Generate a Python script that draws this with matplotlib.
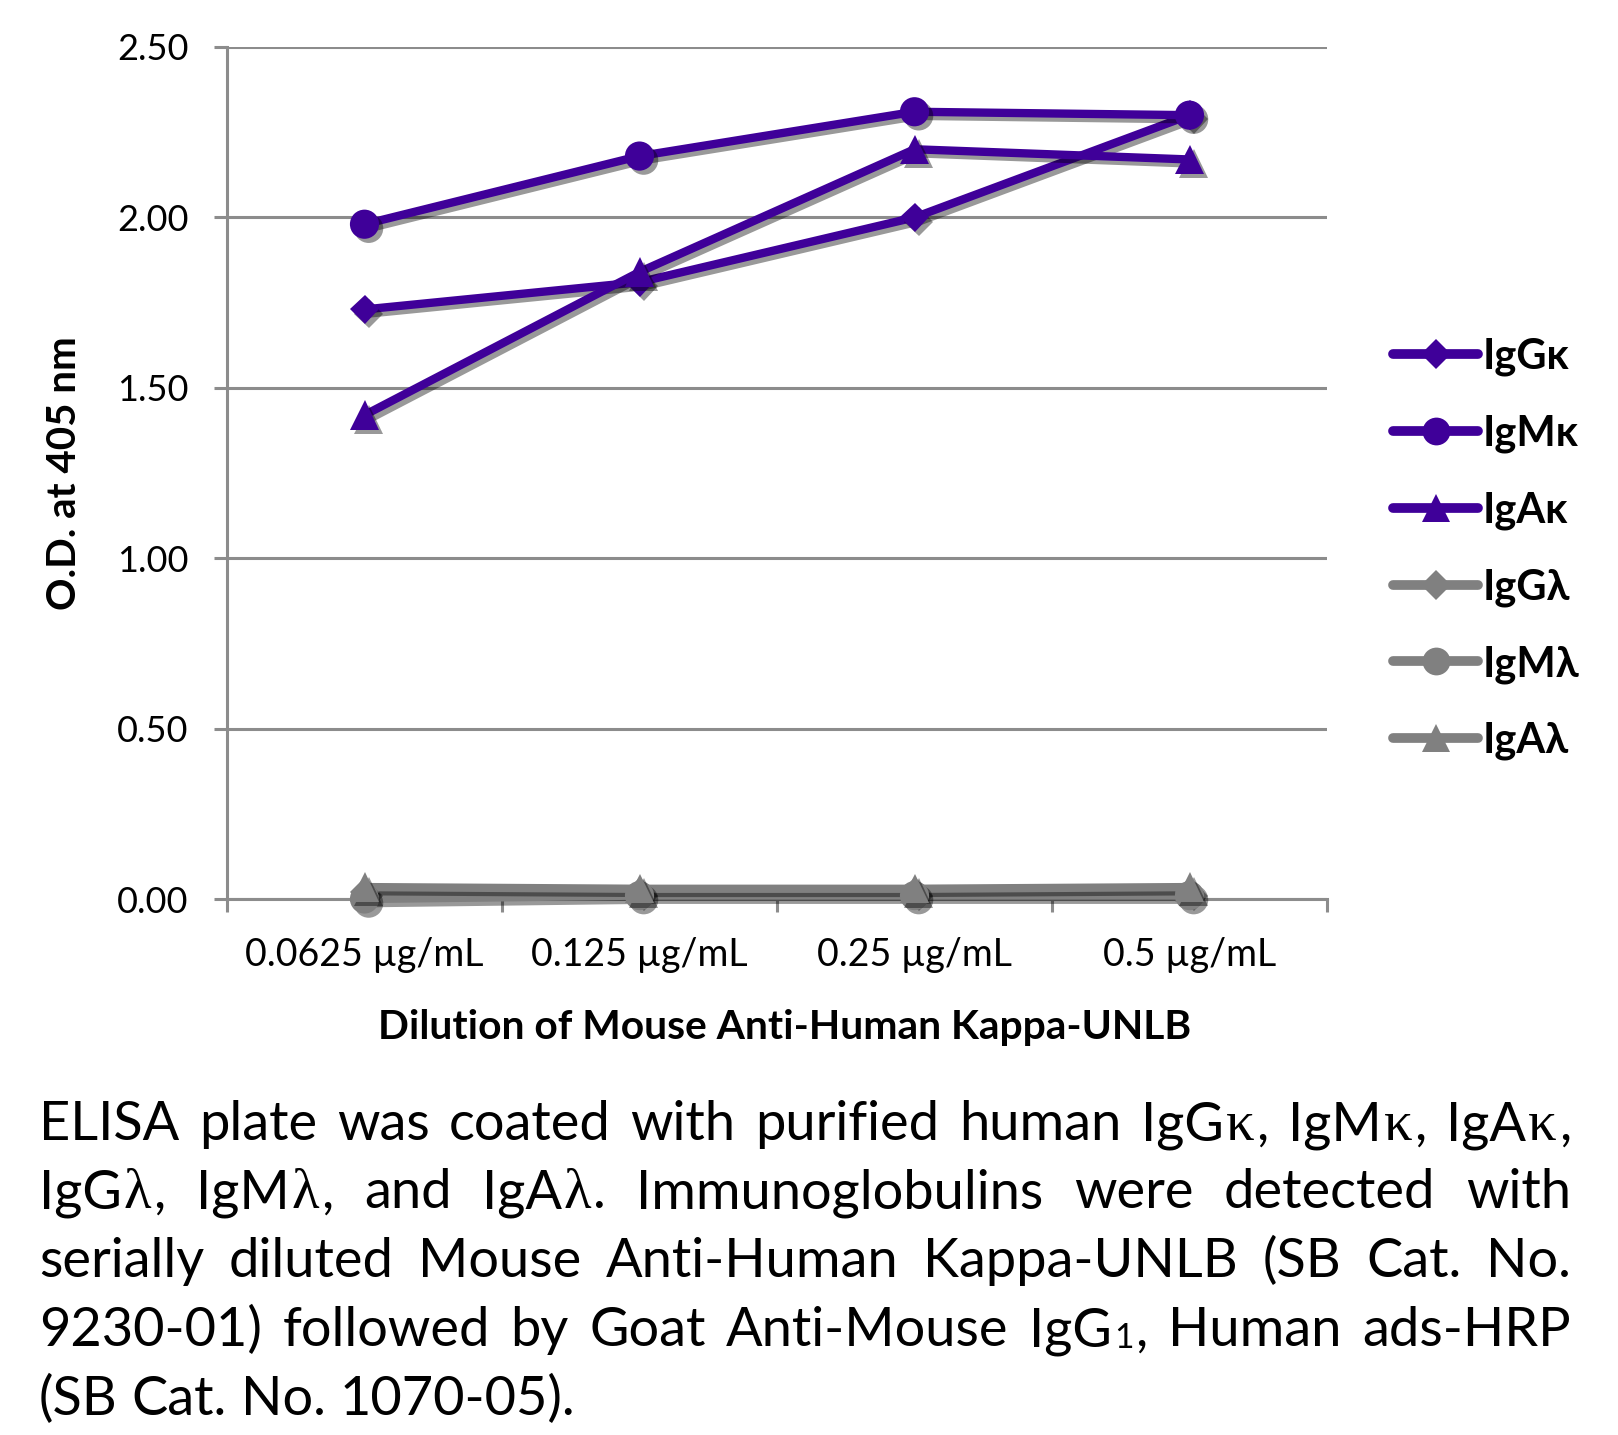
import matplotlib
matplotlib.use('Agg')
import matplotlib.pyplot as plt
import matplotlib.patheffects as pe
from matplotlib.lines import Line2D

plt.rcParams['font.family'] = ['Lato', 'DejaVu Sans']

# data
concentrations = ['0.0625 µg/mL', '0.125 µg/mL', '0.25 µg/mL', '0.5 µg/mL']
series_names = ['IgGκ', 'IgMκ', 'IgAκ', 'IgGλ', 'IgMλ', 'IgAλ']
igg_k = [1.73, 1.81, 2.00, 2.30]
igm_k = [1.98, 2.18, 2.31, 2.30]
iga_k = [1.42, 1.84, 2.20, 2.17]
igg_l = [0.02, 0.02, 0.02, 0.02]
igm_l = [0.00, 0.01, 0.01, 0.01]
iga_l = [0.035, 0.03, 0.03, 0.035]
yticks = [0.0, 0.5, 1.0, 1.5, 2.0, 2.5]

caption_lines = [
    'ELISA plate was coated with purified human IgGκ, IgMκ, IgAκ,',
    'IgGλ, IgMλ, and IgAλ. Immunoglobulins were detected with',
    'serially diluted Mouse Anti-Human Kappa-UNLB (SB Cat. No.',
    '9230-01) followed by Goat Anti-Mouse IgG₁, Human ads-HRP',
    '(SB Cat. No. 1070-05).',
]

W, H = 1618, 1435
purple = '#3f0099'
grey = '#808080'
axcol = '#8c8c8c'

fig = plt.figure(figsize=(W / 100, H / 100), dpi=100)
ax = fig.add_axes([227 / W, 1 - 899 / H, 1100 / W, 852 / H])

series = [igg_k, igm_k, iga_k, igg_l, igm_l, iga_l]
colors = [purple] * 3 + [grey] * 3
markers = ['D', 'o', '^'] * 3
msizes = {'D': 15, 'o': 21, '^': 21}
xs = list(range(len(concentrations)))

shadow_line = [pe.SimpleLineShadow(offset=(3, -3), shadow_color='k', alpha=0.4), pe.Normal()]
shadow_mark = [pe.SimplePatchShadow(offset=(3, -3), shadow_rgbFace='k', alpha=0.4), pe.Normal()]

for vals, c, m in zip(series, colors, markers):
    ax.plot(xs, vals, color=c, lw=6, solid_capstyle='round', zorder=3,
            clip_on=False, path_effects=shadow_line)
    ax.plot(xs, vals, ls='none', marker=m, ms=msizes[m], color=c, mew=0,
            zorder=4, clip_on=False, path_effects=shadow_mark)

ax.set_xlim(-0.5, 3.5)
ax.set_ylim(0, 2.5)
ax.set_yticks(yticks)
ax.set_yticklabels(['%.2f' % v for v in yticks])
ax.yaxis.grid(True, color=axcol, lw=2.2)
ax.set_axisbelow(True)
ax.set_xticks([-0.5, 0.5, 1.5, 2.5, 3.5])
ax.set_xticklabels([])
ax.set_xticks(xs, minor=True)
ax.set_xticklabels(concentrations, minor=True)
ax.tick_params(axis='x', which='major', length=9, width=2.2, color=axcol, direction='out')
ax.tick_params(axis='x', which='minor', length=0, pad=27, labelsize=27)
ax.tick_params(axis='y', length=9.5, width=2.2, color=axcol, pad=18, labelsize=26)
for s in ['top', 'right']:
    ax.spines[s].set_visible(False)
for s in ['left', 'bottom']:
    ax.spines[s].set_color(axcol)
    ax.spines[s].set_linewidth(2.2)

ax.set_xlabel('Dilution of Mouse Anti-Human Kappa-UNLB', fontsize=29.3, fontweight='bold')
ax.xaxis.set_label_coords(0.507, -0.129)
ax.set_ylabel('O.D. at 405 nm', fontsize=29, fontweight='bold', labelpad=25)

# legend keeps the plain marker sizes
leg_ms = {'D': 15, 'o': 20, '^': 20}
handles = [Line2D([], [], color=c, lw=7, marker=m, ms=leg_ms[m], mew=0,
                  solid_capstyle='round')
           for c, m in zip(colors, markers)]
fig.legend(handles, series_names, loc='center left', bbox_to_anchor=(1393 / W, 1 - 549 / H),
           frameon=False, prop={'weight': 'bold', 'size': 30},
           handlelength=2.05, handletextpad=0.1, labelspacing=0.92,
           borderpad=0, borderaxespad=0)

# justified caption, word by word
fig.canvas.draw()
renderer = fig.canvas.get_renderer()
cap_left, cap_right = 39, 1571
baselines = [1140, 1208, 1277, 1346, 1415]
base_size = 39


def pieces(word):
    out = []
    for ch in word:
        kind = 'greek' if ch in 'κλ' else ('sub' if ch == '₁' else 'plain')
        if out and out[-1][0] == kind:
            out[-1][1] += ch
        else:
            out.append([kind, ch])
    return out


def props(kind, size):
    if kind == 'greek':
        return dict(family=['Liberation Serif', 'DejaVu Serif'], size=size * 1.05)
    if kind == 'sub':
        return dict(size=size * 0.62)
    return dict(size=size)


def measure(s, p):
    t = fig.text(0, 0, s, **p)
    w = t.get_window_extent(renderer).width
    t.remove()
    return w


def word_layout(word, size):
    parts = []
    x = 0
    for kind, s in pieces(word):
        if kind == 'sub':
            s = '1'
        w = measure(s, props(kind, size))
        parts.append((x, kind, s))
        x += w + size * 0.05
    return parts, x - size * 0.05


space_w = measure('a a', props('plain', base_size)) - 2 * measure('a', props('plain', base_size))
natural = []
for line in caption_lines[:4]:
    ws = [word_layout(w, base_size)[1] for w in line.split()]
    natural.append(sum(ws) + space_w * (len(ws) - 1))
scale = min(1.0, (cap_right - cap_left) / max(natural))
size = base_size * scale

for i, line in enumerate(caption_lines):
    words = [word_layout(w, size) for w in line.split()]
    total = sum(w for _, w in words)
    if i < 4:
        gap = (cap_right - cap_left - total) / (len(words) - 1)
    else:
        gap = space_w * scale
    x = cap_left
    y = baselines[i]
    for parts, w in words:
        for dx, kind, s in parts:
            dy = size * 0.06 if kind == 'sub' else 0
            fig.text((x + dx) / W, 1 - (y + dy) / H, s, va='baseline', ha='left',
                     **props(kind, size))
        x += w + gap

fig.savefig('out.png', dpi=100)
